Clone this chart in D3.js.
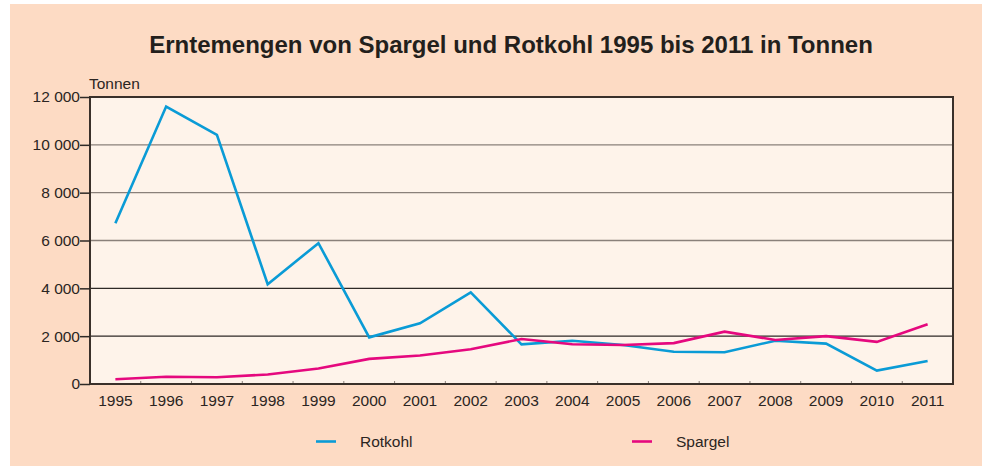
<!DOCTYPE html>
<html>
<head>
<meta charset="utf-8">
<script src="https://cdn.jsdelivr.net/npm/d3@7"></script>
<style>
  html, body { margin: 0; padding: 0; background: #ffffff; }
  svg { display: block; font-family: "Liberation Sans", Arial, sans-serif; }
</style>
</head>
<body>
<svg id="chart" width="992" height="470"></svg>
<script>
const years = [1995,1996,1997,1998,1999,2000,2001,2002,2003,2004,2005,2006,2007,2008,2009,2010,2011];
const rotkohl = [6720,11600,10420,4170,5890,1950,2540,3830,1660,1810,1630,1350,1330,1810,1690,560,960];
const spargel = [200,300,280,400,650,1050,1190,1450,1880,1660,1630,1710,2190,1840,2000,1760,2500];
const yTicks = [0,2000,4000,6000,8000,10000,12000];
const seriesNames = ["Rotkohl","Spargel"];
const seriesColors = ["#0a9bd6","#e5087e"];

const svg = d3.select("#chart");
const W = 992, H = 470;
const m = {left: 90, right: 39, top: 97, bottom: 86};
const plotW = W - m.left - m.right;
const plotH = H - m.top - m.bottom;
const FS = 15.5;

svg.append("rect").attr("x",10).attr("y",4).attr("width",972).attr("height",462).attr("fill","#fddbc4");

const g = svg.append("g").attr("transform",`translate(${m.left},${m.top})`);

const x = d3.scaleBand().domain(years).range([0, plotW]);
const y = d3.scaleLinear().domain([0,12000]).range([plotH, 0]);

g.append("rect").attr("width",plotW).attr("height",plotH).attr("fill","#fef3ea");

g.selectAll(".grid").data(yTicks.filter(d => d>0 && d<12000)).enter().append("line")
  .attr("x1",0).attr("x2",plotW)
  .attr("y1",d=>y(d)).attr("y2",d=>y(d))
  .attr("stroke", d => d >= 6000 ? "#8a807a" : "#2e2926")
  .attr("stroke-width",1.3);

g.selectAll(".xb").data(years.slice(1)).enter().append("line")
  .attr("x1",d=>x(d)).attr("x2",d=>x(d))
  .attr("y1",plotH).attr("y2",plotH-3)
  .attr("stroke","#8a807a").attr("stroke-width",1);

const line = vals => d3.line()
  .x((d,i)=>x(years[i]) + x.bandwidth()/2)
  .y(d=>y(d))(vals);

[rotkohl, spargel].forEach((vals,i)=>{
  g.append("path").attr("d", line(vals)).attr("fill","none")
    .attr("stroke",seriesColors[i]).attr("stroke-width",2.6)
    .attr("stroke-linejoin","miter");
});

g.append("rect").attr("width",plotW).attr("height",plotH).attr("fill","none")
  .attr("stroke","#3a302a").attr("stroke-width",2);

const yAxis = g.append("g").call(d3.axisLeft(y).tickValues(yTicks).tickSize(10).tickPadding(0)
  .tickFormat(d => d3.format(",")(d).replace(/,/g," ")));
yAxis.select(".domain").remove();
yAxis.selectAll(".tick line").attr("stroke","#2e2926").attr("stroke-width",1.5);
yAxis.selectAll(".tick text").attr("font-size",FS).attr("fill","#2b2522")
  .attr("font-family","'Liberation Sans', Arial, sans-serif");

const xAxis = g.append("g").attr("transform",`translate(0,${plotH})`)
  .call(d3.axisBottom(x).tickSize(0).tickPadding(11));
xAxis.select(".domain").remove();
xAxis.selectAll(".tick text").attr("font-size",FS).attr("fill","#2b2522")
  .attr("font-family","'Liberation Sans', Arial, sans-serif");

svg.append("text").attr("x",89).attr("y",89).attr("font-size",FS).attr("fill","#2b2522").text("Tonnen");

svg.append("text").attr("x",511).attr("y",53).attr("text-anchor","middle")
  .attr("font-size",24).attr("font-weight","bold").attr("fill","#231f1c")
  .text("Erntemengen von Spargel und Rotkohl 1995 bis 2011 in Tonnen");

const legX = [316, 632];
seriesNames.forEach((n,i)=>{
  svg.append("line").attr("x1",legX[i]).attr("x2",legX[i]+20).attr("y1",441.5).attr("y2",441.5)
    .attr("stroke",seriesColors[i]).attr("stroke-width",2.6);
  svg.append("text").attr("x",legX[i]+44).attr("y",447).attr("font-size",FS).attr("fill","#2b2522").text(n);
});
</script>
</body>
</html>
